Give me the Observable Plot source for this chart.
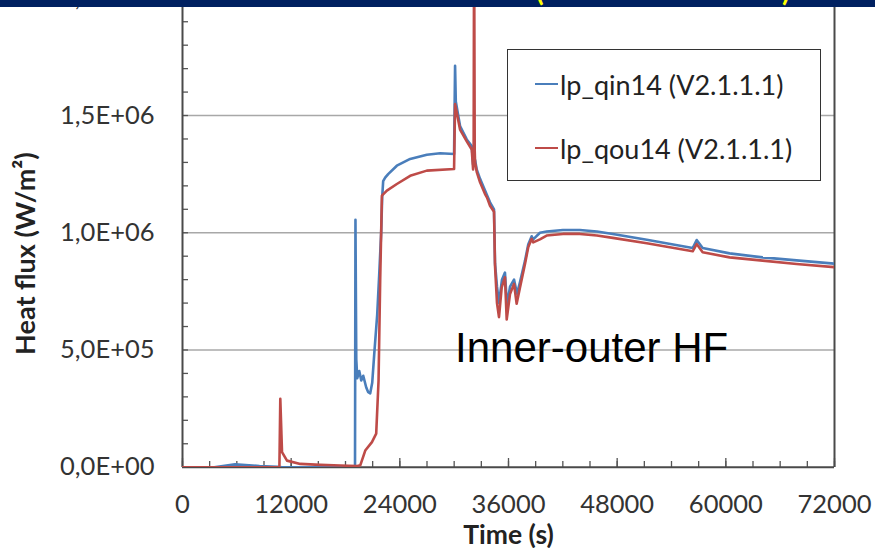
<!DOCTYPE html>
<html><head><meta charset="utf-8">
<script src="https://cdn.jsdelivr.net/npm/d3@7"></script>
<script src="https://cdn.jsdelivr.net/npm/@observablehq/plot@0.6"></script>
<style>
html,body{margin:0;padding:0;background:#fff;}
#wrap{position:relative;width:875px;height:548px;overflow:hidden;font-family:Lato,sans-serif;}
#chart{position:absolute;left:0;top:0;}
#banner{position:absolute;left:0;top:0;width:875px;height:7px;background:#002060;overflow:hidden;z-index:5;}
#banner span{position:absolute;top:-24px;color:#ffff00;font:bold 28px Lato,sans-serif;line-height:28px;}
#legend{position:absolute;left:507px;top:49px;width:312px;height:130px;border:1.5px solid #333;background:#fff;z-index:3;}
.item{position:absolute;left:27px;height:30px;display:flex;align-items:center;font:27px Lato,sans-serif;color:#222;white-space:nowrap;}
.item i{display:inline-block;width:23px;height:2.5px;margin-right:2px;}
</style></head>
<body>
<div id="wrap">
  <div id="banner"></div>
  <div id="chart"></div>
  <div id="legend"></div>
</div>
<script>
// ---- data ----
const seriesNames = ["lp_qin14 (V2.1.1.1)", "lp_qou14 (V2.1.1.1)"];
const seriesColors = ["#4a7ebb", "#be4b48"];
const xTicks = [0, 12000, 24000, 36000, 48000, 60000, 72000];
const yTicks = [0, 500000, 1000000, 1500000, 2000000];
const bannerFragments = ["(", ")"];
const annotationText = "Inner-outer HF";
const annotationAt = [30100, 447000];
const xTitle = "Time (s)";
const yTitle = "Heat flux (W/m²)";
const yTitleAt = [-17200, 911000];

const qinPoints = [
  [0,0],[3500,0],[5800,12000],[8500,5000],[10500,2000],[11000,0],[19050,0],[19100,1055000],
  [19190,460000],[19300,380000],[19520,410000],[19740,370000],[19960,390000],[20290,340000],
  [20510,320000],[20730,315000],[20950,360000],[21170,480000],[21500,650000],[21720,820000],
  [21940,1000000],[22050,1150000],[22160,1220000],[22380,1235000],[22710,1250000],[23670,1286000],
  [25140,1315000],[26980,1333000],[28450,1339000],[29990,1336000],[30100,1712000],[30180,1560000],
  [30650,1455000],[31390,1398000],[31940,1370000],[32090,1290000],[32310,1310000],[32490,1270000],
  [32860,1230000],[33410,1180000],[33630,1160000],[33960,1130000],[34400,1100000],[34510,870000],
  [34730,770000],[34950,700000],[35280,800000],[35610,830000],[35830,690000],[36170,770000],
  [36610,800000],[36940,740000],[37270,790000],[37820,880000],[38180,950000],[38560,985000],
  [38730,972000],[39470,1000000],[40210,1005000],[42010,1012000],[43880,1012000],[45760,1005000],
  [47520,995000],[51270,970000],[56340,935000],[56780,969000],[57440,935000],[60420,912000],
  [64060,895000],[67810,882000],[72000,868000]
];
const qouPoints = [
  [0,0],[10700,0],[10800,292000],[10990,64000],[11540,28000],[13010,14000],[15220,10000],
  [17420,7000],[19300,5000],[19630,8000],[20180,71000],[20920,107000],[21390,143000],[21650,370000],
  [21830,796000],[22020,1158000],[22570,1180000],[23670,1208000],[25140,1243000],[26980,1265000],
  [29990,1272000],[30100,1549000],[30650,1440000],[31390,1390000],[31940,1355000],[32090,1270000],
  [32150,1330000],[32200,2300000],[32270,1350000],[32310,1300000],[32490,1260000],[32860,1215000],
  [33410,1165000],[33630,1150000],[33960,1115000],[34400,1090000],[34510,860000],[34730,700000],
  [34950,640000],[35250,767000],[35610,810000],[35800,630000],[36170,739000],[36610,782000],
  [36900,697000],[37270,767000],[37820,867000],[38180,938000],[38560,974000],[38730,959000],
  [39470,972000],[40210,988000],[42010,995000],[43880,995000],[45760,988000],[47520,978000],
  [51270,955000],[56340,921000],[56780,952000],[57440,917000],[60420,895000],[64060,881000],
  [67810,867000],[72000,853000]
];

// ---- helpers ----
const xMinor = d3.range(0, 72001, 3000);
const yMinor = d3.range(0, 2000001, 100000);
function fmtE(d) {
  const [m, e] = d.toExponential(1).split("e");
  const n = +e;
  return m.replace(".", ",") + "E" + (n < 0 ? "-" : "+") + String(Math.abs(n)).padStart(2, "0");
}

const plot = Plot.plot({
  width: 875, height: 548,
  marginLeft: 182, marginRight: 41, marginTop: 0, marginBottom: 81,
  style: {fontFamily: "Lato, sans-serif", fontSize: "25px", color: "#333", background: "transparent"},
  x: {domain: [0, 72000], range: [182, 834]},
  y: {domain: [0, 2000000], range: [466.7, -2.2]},
  marks: [
    Plot.gridY({ticks: yTicks.slice(1), stroke: "#a8a8a8", strokeOpacity: 1, strokeWidth: 1.6}),
    Plot.axisY({ticks: yMinor, tickSize: -6, text: null, label: null, stroke: "#555", strokeWidth: 1.3}),
    Plot.axisX({ticks: xMinor, tickSize: -6, text: null, label: null, stroke: "#555", strokeWidth: 1.3}),
    Plot.axisX({ticks: xTicks, tickSize: -9, text: null, label: null, stroke: "#555", strokeWidth: 1.3}),
    Plot.axisY({ticks: yTicks, tickSize: 0, tickPadding: 28, tickFormat: fmtE, label: null, fontSize: 25.5}),
    Plot.axisX({ticks: xTicks, tickSize: 0, tickPadding: 27, tickFormat: d => String(d), label: null, fontSize: 25.5}),
    Plot.ruleX([0, 72000], {stroke: "#4a4a4a", strokeWidth: 2}),
    Plot.ruleY([0], {stroke: "#4a4a4a", strokeWidth: 2}),
    Plot.line(qinPoints, {x: d => d[0], y: d => d[1], stroke: seriesColors[0], strokeWidth: 2.6, clip: true}),
    Plot.line(qouPoints, {x: d => d[0], y: d => d[1], stroke: seriesColors[1], strokeWidth: 2.6, clip: true}),
    Plot.text([annotationText], {x: annotationAt[0], y: annotationAt[1], text: d => d, textAnchor: "start",
      lineAnchor: "bottom", fontFamily: "Liberation Sans, Arial, sans-serif", fontSize: 42, fill: "#000"}),
    Plot.text([xTitle], {frameAnchor: "bottom", dy: 76, lineAnchor: "bottom", fontWeight: "bold",
      fontSize: 26.5, fill: "#222"}),
    Plot.text([yTitle], {x: yTitleAt[0], y: yTitleAt[1], text: d => d, rotate: -90, lineAnchor: "middle",
      fontWeight: "bold", fontSize: 27, fill: "#222"})
  ]
});
document.getElementById("chart").appendChild(plot);

// legend
const legend = document.getElementById("legend");
seriesNames.forEach((name, i) => {
  const it = document.createElement("div");
  it.className = "item";
  it.style.top = (i === 0 ? 19 : 83) + "px";
  const sw = document.createElement("i");
  sw.style.background = seriesColors[i];
  it.appendChild(sw);
  it.appendChild(document.createTextNode(name));
  legend.appendChild(it);
});

// banner fragments
const banner = document.getElementById("banner");
[536, 782].forEach((left, i) => {
  const s = document.createElement("span");
  s.style.left = left + "px";
  s.textContent = bannerFragments[i];
  banner.appendChild(s);
});
</script>
</body></html>
